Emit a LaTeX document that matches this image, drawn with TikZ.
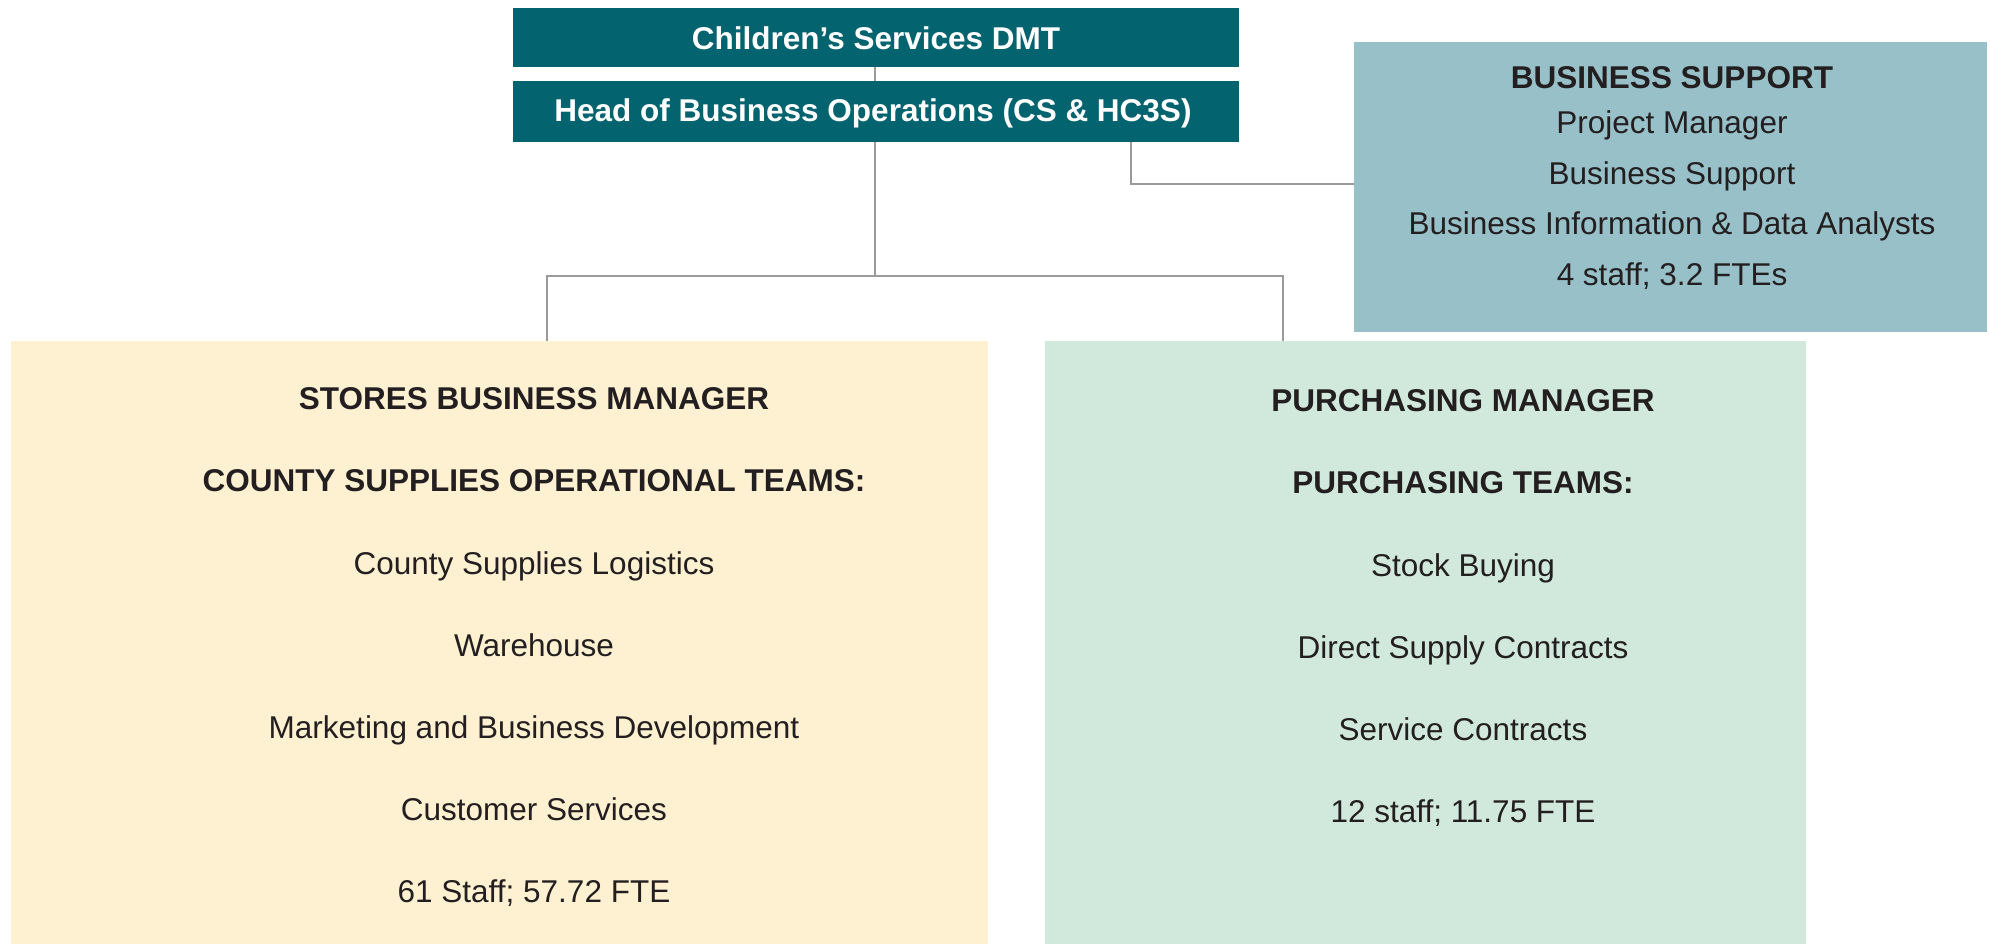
\documentclass[tikz,border=0pt]{standalone}
\usepackage{fontspec}
\setmainfont{Liberation Sans}
\definecolor{teal}{HTML}{03636E}
\definecolor{bsblue}{HTML}{97C0C8}
\definecolor{cream}{HTML}{FEF1D2}
\definecolor{mint}{HTML}{D1E8DC}
\definecolor{txt}{HTML}{231F20}
\definecolor{linegray}{HTML}{9A9A9A}
\tikzset{
  box/.style={rectangle, inner sep=0pt, draw=none},
  headbox/.style={box, fill=teal, minimum width=726pt},
  lbl/.style={anchor=base, inner sep=0pt, text=txt, font=\fontsize{31.5}{38}\selectfont},
  blbl/.style={lbl, font=\fontsize{31.5}{38}\selectfont\bfseries},
  wlbl/.style={anchor=base, inner sep=0pt, text=white, font=\fontsize{31.5}{38}\selectfont\bfseries},
  conn/.style={draw=linegray, line width=1.6pt}
}
\begin{document}
\begin{tikzpicture}[x=1pt,y=-1pt]
\useasboundingbox (0,0) rectangle (1990,944);
% boxes
\node[headbox, minimum height=59pt] (dmt) at (876,37.5) {};
\node[headbox, minimum height=61pt] (head) at (876,111.5) {};
\node[box, fill=bsblue, minimum width=633pt, minimum height=290pt] (bs) at (1670.5,187) {};
\node[box, fill=cream, minimum width=977pt, minimum height=603pt] (stores) at (499.5,642.5) {};
\node[box, fill=mint, minimum width=761pt, minimum height=603pt] (purch) at (1425.5,642.5) {};
% head texts
\node[wlbl] (t1) at (876,50) {Children’s Services DMT};
\node[wlbl] (t2) at (873,122) {Head of Business Operations (CS \& HC3S)};
% business support texts
\node[blbl] (b0) at (1672,89) {BUSINESS SUPPORT};
\node[lbl] (b1) at (1672,134) {Project Manager};
\node[lbl] (b2) at (1672,184.5) {Business Support};
\node[lbl] (b3) at (1672,235) {Business Information \& Data Analysts};
\node[lbl] (b4) at (1672,285.5) {4 staff; 3.2 FTEs};
% stores texts
\node[blbl] (s0) at (534,409.6) {STORES BUSINESS MANAGER};
\node[blbl] (s1) at (534,491.8) {COUNTY SUPPLIES OPERATIONAL TEAMS:};
\node[lbl] (s2) at (534,574) {County Supplies Logistics};
\node[lbl] (s3) at (534,656.2) {Warehouse};
\node[lbl] (s4) at (534,738.4) {Marketing and Business Development};
\node[lbl] (s5) at (534,820.6) {Customer Services};
\node[lbl] (s6) at (534,902.8) {61 Staff; 57.72 FTE};
% purchasing texts
\node[blbl] (p0) at (1463,411.6) {PURCHASING MANAGER};
\node[blbl] (p1) at (1463,493.8) {PURCHASING TEAMS:};
\node[lbl] (p2) at (1463,576) {Stock Buying};
\node[lbl] (p3) at (1463,658.2) {Direct Supply Contracts};
\node[lbl] (p4) at (1463,740.4) {Service Contracts};
\node[lbl] (p5) at (1463,822.6) {12 staff; 11.75 FTE};
% connectors
\coordinate (hj) at (875,276);
\draw[conn] (dmt.south -| hj) -- (head.north -| hj);
\draw[conn] (head.south -| hj) -- (hj);
\draw[conn] (stores.north -| 547,0) |- (hj) -| (purch.north -| 1283,0);
\draw[conn] (head.south -| 1131,0) |- (bs.west |- 0,184);
\end{tikzpicture}
\end{document}
